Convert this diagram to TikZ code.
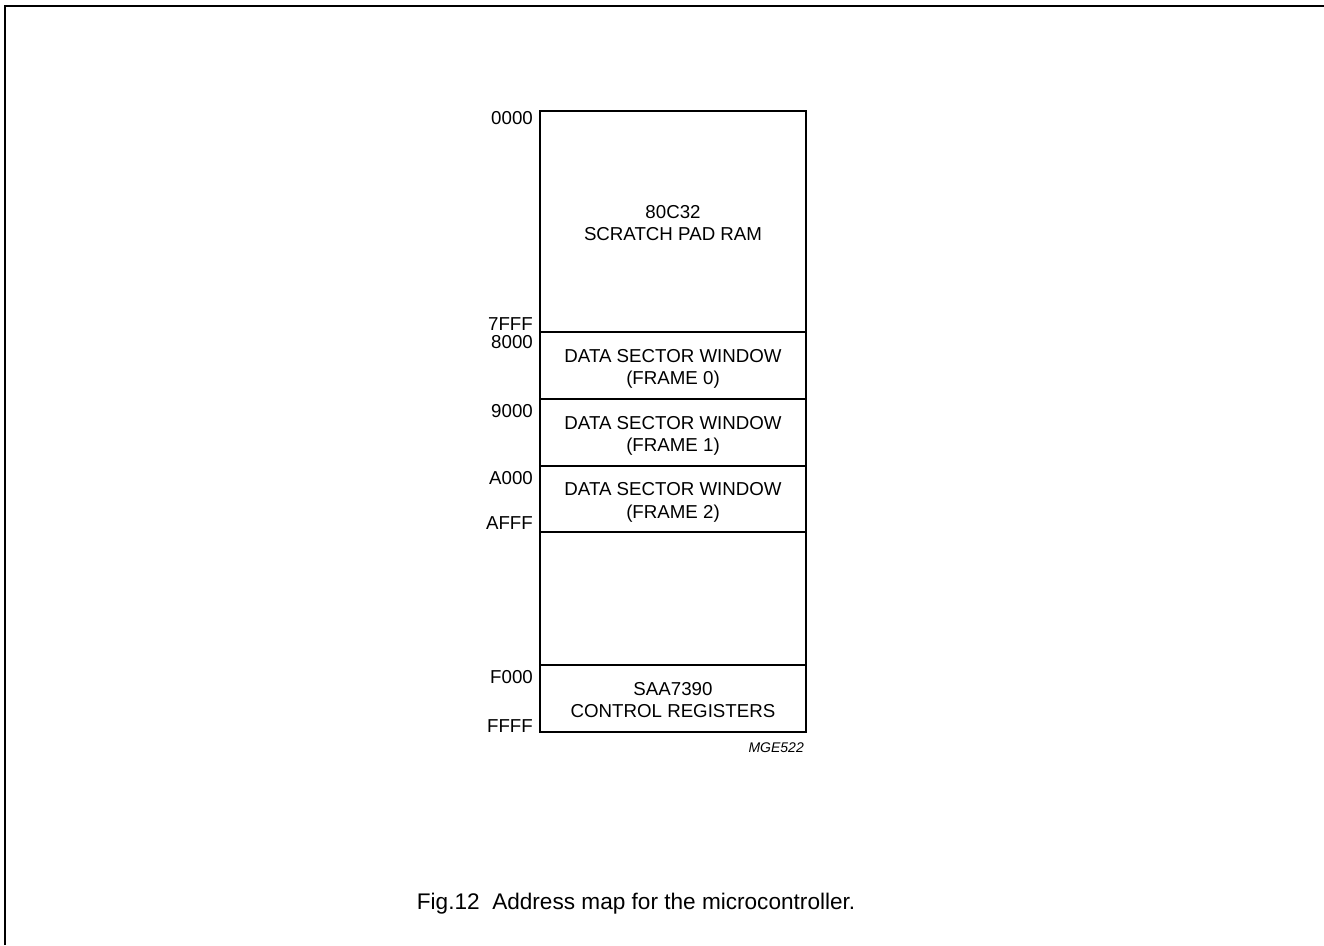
\documentclass[tikz,border=0pt]{standalone}
\usepackage{fontspec}
\setmainfont{Liberation Sans}
\begin{document}
\begin{tikzpicture}[x=1pt,y=-1pt,
  blk/.style={draw, line width=1.8pt, minimum width=266pt, inner sep=0pt, align=center,
    text height=38.5pt, text depth=0pt,
    font=\fontsize{18.7}{22.5}\selectfont},
  addr/.style={anchor=base east, inner sep=0pt, font=\fontsize{18.7}{22}\selectfont},
  frameline/.style={line width=2pt}]
\useasboundingbox (0,0) rectangle (1324,945);
\coordinate (fb) at (5,945);
\coordinate (fc) at (5,5.5);
\coordinate (fr) at (1324,5.5);
\draw[frameline] (fb) -- (fc) -- (fr);

\node[blk, minimum height=221pt] (ram) at (673,221.5) {80C32\\SCRATCH PAD RAM};
\node[blk, minimum height=67pt] (f0) at (673,365.5) {DATA SECTOR WINDOW\\(FRAME 0)};
\node[blk, minimum height=67pt] (f1) at (673,432.5) {DATA SECTOR WINDOW\\(FRAME 1)};
\node[blk, minimum height=66pt] (f2) at (673,499) {DATA SECTOR WINDOW\\(FRAME 2)};
\node[blk, minimum height=133pt] (gap) at (673,598.5) {};
\node[blk, minimum height=67pt] (regs) at (673,698.5) {SAA7390\\CONTROL REGISTERS};

\node[addr] (a0000) at (533,124) {0000};
\node[addr] (a7fff) at (533,330) {7FFF};
\node[addr] (a8000) at (533,348) {8000};
\node[addr] (a9000) at (533,417) {9000};
\node[addr] (aa000) at (533,484) {A000};
\node[addr] (aafff) at (533,529.5) {AFFF};
\node[addr] (af000) at (533,683) {F000};
\node[addr] (affff) at (533,732) {FFFF};

\node[anchor=base east, inner sep=0pt, font=\fontsize{14}{16}\selectfont\itshape] (code) at (804,752) {MGE522};
\node[anchor=base west, inner sep=0pt, font=\fontsize{22.6}{26}\selectfont] (cap) at (416.7,909) {Fig.12\ \ Address map for the microcontroller.};
\end{tikzpicture}
\end{document}
